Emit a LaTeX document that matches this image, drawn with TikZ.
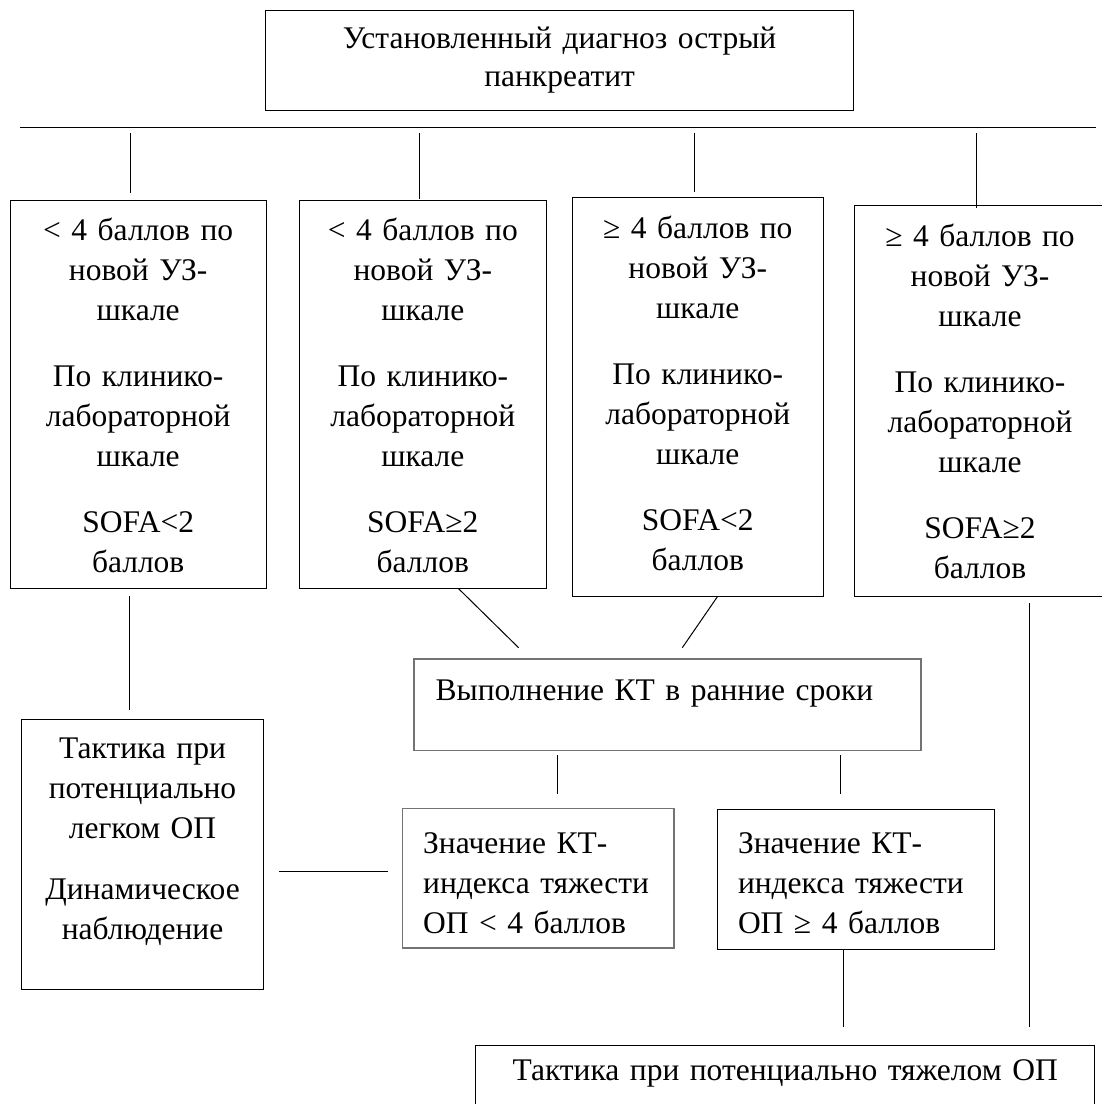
\documentclass[tikz,border=0pt]{standalone}
\usepackage{fontspec}
\setmainfont{Liberation Serif}
\newcommand\fsz{\fontsize{31.5}{40}\selectfont}
\newcommand\fsztop{\fontsize{31.5}{38}\selectfont}
\begin{document}
\begin{tikzpicture}[x=1pt,y=-1pt,
  box/.style={draw=black,line width=1pt,inner sep=0pt},
  graybox/.style={draw=black!55,line width=1.8pt,inner sep=0pt},
  ln/.style={draw=black,line width=1pt},
  txt/.style={inner sep=0pt,font=\fsz,anchor=north},
]
\useasboundingbox (0,0) rectangle (1102,1104);
\clip (0,0) rectangle (1102,1104);
% boxes
\node[box,minimum width=587.7pt,minimum height=99.5pt] (top) at (559.6,60.3) {};
\node[box,minimum width=256.4pt,minimum height=387.3pt] (b1) at (138.2,394.35) {};
\node[box,minimum width=247.1pt,minimum height=387.3pt] (b2) at (422.85,394.35) {};
\node[box,minimum width=250.9pt,minimum height=398.3pt] (b3) at (697.75,396.85) {};
\node[box,minimum width=252pt,minimum height=390.3pt] (b4) at (980,400.85) {};
\node[graybox,minimum width=507pt,minimum height=91.5pt] (kt) at (667.5,704.75) {};
\node[box,minimum width=242.1pt,minimum height=270pt] (lt) at (142.55,854.3) {};
\node[graybox,minimum width=271.2pt,minimum height=139.5pt] (lo) at (538.1,878.25) {};
\node[box,minimum width=276.7pt,minimum height=139.3pt] (hi) at (856.15,879.35) {};
\node[box,minimum width=618.8pt,minimum height=110pt] (ht) at (785.2,1100.7) {};
% texts
\node[txt,font=\fsztop,text width=580pt,align=center] (topt) at (559.6,22) {\strut Установленный диагноз острый\\ панкреатит};
\node[txt,text width=252pt,align=center] (t1) at (138.2,212) {\strut < 4 баллов по\\ новой УЗ-\\ шкале\\[26pt] По клинико-\\ лабораторной\\ шкале\\[26pt] SOFA<2\\ баллов};
\node[txt,text width=245pt,align=center] (t2) at (422.85,212) {\strut < 4 баллов по\\ новой УЗ-\\ шкале\\[26pt] По клинико-\\ лабораторной\\ шкале\\[26pt] SOFA≥2\\ баллов};
\node[txt,text width=248pt,align=center] (t3) at (697.75,210) {\strut ≥ 4 баллов по\\ новой УЗ-\\ шкале\\[26pt] По клинико-\\ лабораторной\\ шкале\\[26pt] SOFA<2\\ баллов};
\node[txt,text width=250pt,align=center] (t4) at (980,218) {\strut ≥ 4 баллов по\\ новой УЗ-\\ шкале\\[26pt] По клинико-\\ лабораторной\\ шкале\\[26pt] SOFA≥2\\ баллов};
\node[txt,anchor=north west,text width=480pt,align=left] (ktt) at (435.4,672) {\strut Выполнение КТ в ранние сроки};
\node[txt,text width=240pt,align=center] (ltt) at (142.55,730) {\strut Тактика при\\ потенциально\\ легком ОП\\[21pt] Динамическое\\ наблюдение};
\node[txt,anchor=north west,text width=260pt,align=left] (lot) at (423,825) {\strut Значение КТ-\\ индекса тяжести\\ ОП < 4 баллов};
\node[txt,anchor=north west,text width=260pt,align=left] (hit) at (737.8,825.3) {\strut Значение КТ-\\ индекса тяжести\\ ОП ≥ 4 баллов};
\node[txt,text width=610pt,align=center] (htt) at (785.2,1052) {\strut Тактика при потенциально тяжелом ОП};
% connectors
\coordinate (barL) at (20,127.7);
\coordinate (barR) at (1096,127.7);
\draw[ln] (barL) -- (barR);
\coordinate (c1) at (130,133);
\coordinate (c2) at (419.6,133);
\coordinate (c3) at (694.2,133);
\coordinate (c4) at (976.7,133);
\draw[ln] (c1) -- (c1 |- 0,192.5);
\draw[ln] (c2) -- (c2 |- 0,198.5);
\draw[ln] (c3) -- (c3 |- 0,191.5);
\draw[ln] (c4) -- (c4 |- 0,208);
\coordinate (d1) at (129.6,596);
\draw[ln] (d1) -- (d1 |- 0,710);
\coordinate (e1) at (458.2,588.3);
\coordinate (e2) at (518.6,647.7);
\draw[ln] (e1) -- (e2);
\coordinate (f1) at (717.4,596.7);
\coordinate (f2) at (682.3,647.7);
\draw[ln] (f1) -- (f2);
\coordinate (g1) at (557,755);
\draw[ln] (g1) -- (g1 |- 0,794);
\coordinate (g2) at (840.4,755);
\draw[ln] (g2) -- (g2 |- 0,794);
\coordinate (h1) at (279.3,871.7);
\coordinate (h2) at (388.1,871.7);
\draw[ln] (h1) -- (h2);
\coordinate (k1) at (843.6,949);
\draw[ln] (k1) -- (k1 |- 0,1027);
\coordinate (m1) at (1029.6,603);
\draw[ln] (m1) -- (m1 |- 0,1027);
\end{tikzpicture}
\end{document}
